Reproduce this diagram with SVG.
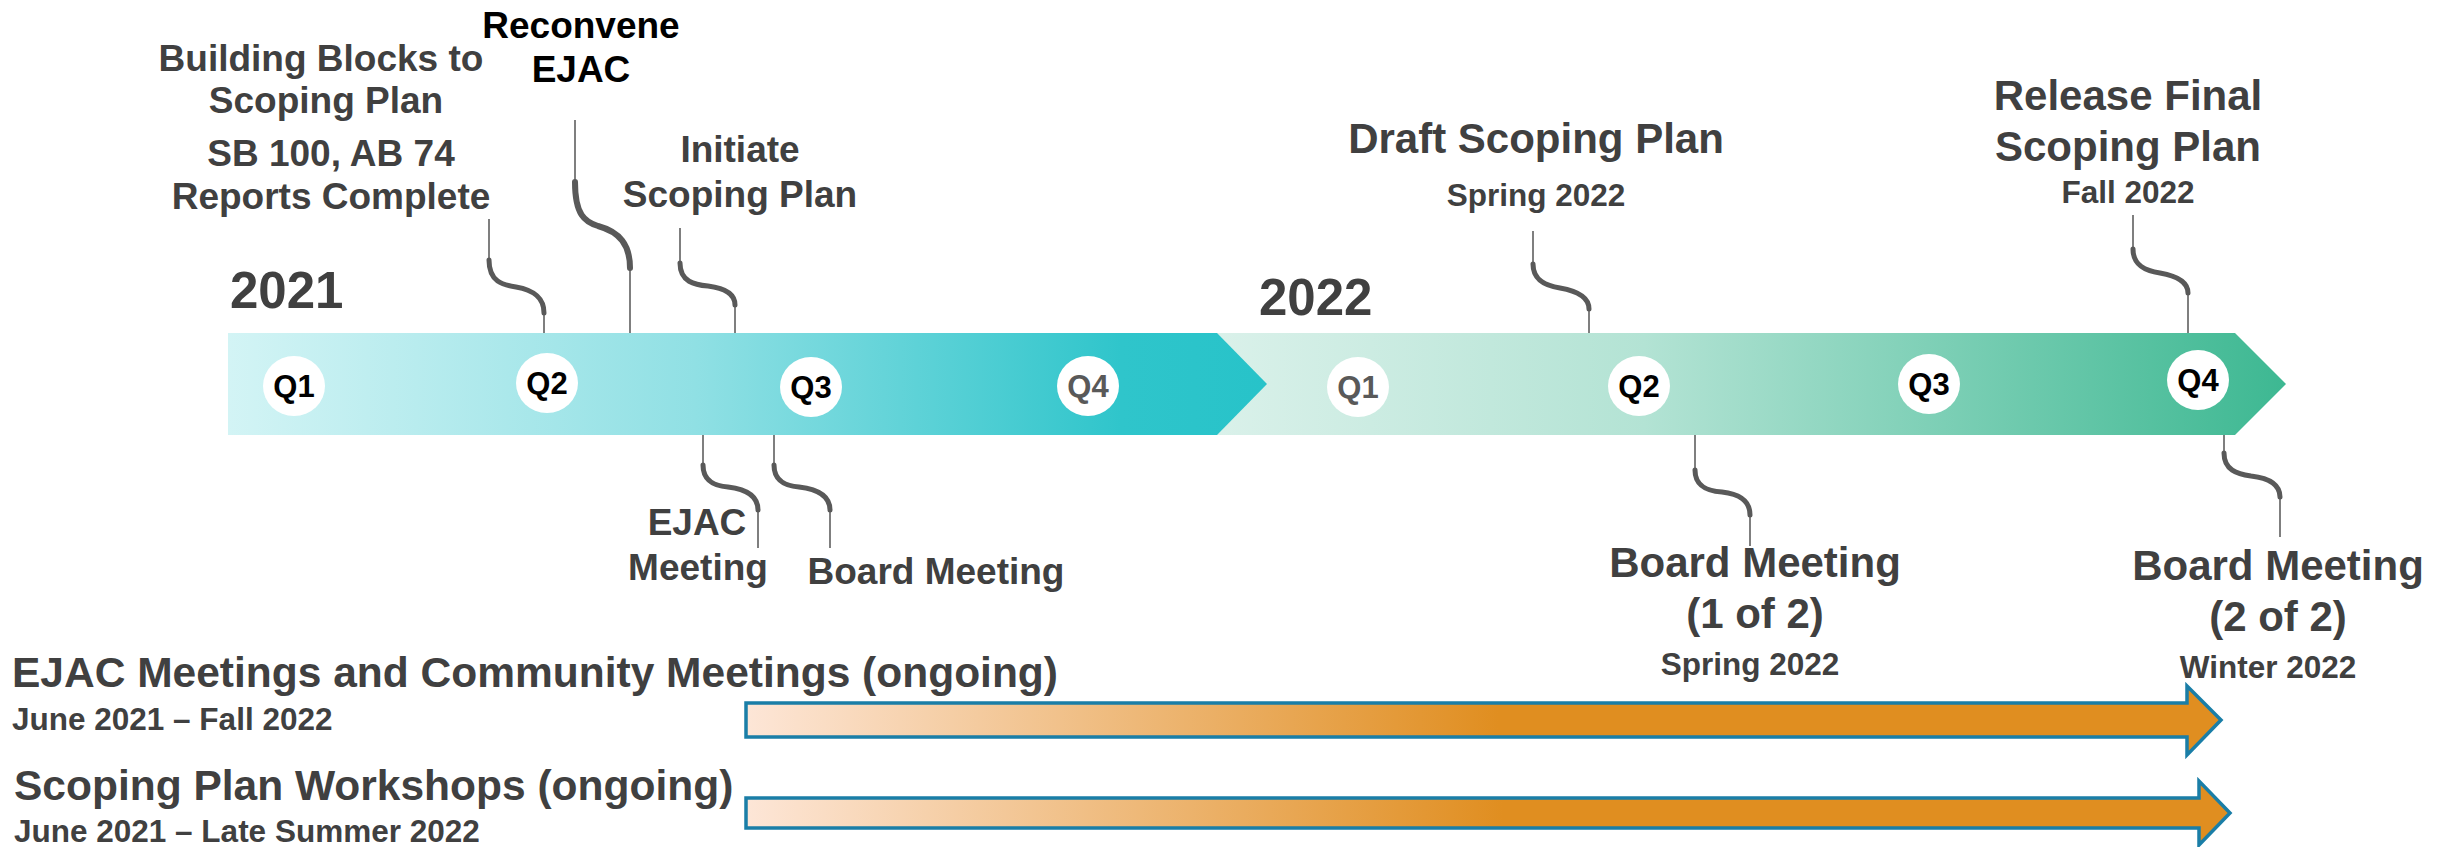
<svg xmlns="http://www.w3.org/2000/svg" width="2452" height="847" viewBox="0 0 2452 847">
<defs>
<linearGradient id="g2021" x1="0" y1="0" x2="1" y2="0">
<stop offset="0" stop-color="#d3f4f5"/>
<stop offset="0.45" stop-color="#90e0e4"/>
<stop offset="0.86" stop-color="#2fc5cb"/>
<stop offset="1" stop-color="#27c3c9"/>
</linearGradient>
<linearGradient id="g2022" x1="0" y1="0" x2="1" y2="0">
<stop offset="0" stop-color="#daf1ea"/>
<stop offset="0.4" stop-color="#b3e3d4"/>
<stop offset="1" stop-color="#3db892"/>
</linearGradient>
<linearGradient id="gOrange" x1="0" y1="0" x2="1" y2="0">
<stop offset="0" stop-color="#fde6d7"/>
<stop offset="0.51" stop-color="#e08e20"/>
<stop offset="1" stop-color="#e08e20"/>
</linearGradient>
<style>
text{font-family:"Liberation Sans",Arial,sans-serif;font-weight:bold;fill:#404040}
.m{text-anchor:middle}
.lbl{font-size:37px}
.big{font-size:42px}
.sm{font-size:31.5px}
.yr{font-size:51px}
.q{font-size:31px;text-anchor:middle;fill:#000}
.qg{fill:#595959}
.blk{fill:#000}
.thin{fill:none;stroke:#7f7f7f;stroke-width:2}
.thick{fill:none;stroke:#595959;stroke-width:5;stroke-linecap:round}
.arrow{fill:url(#gOrange);stroke:#1a7ea7;stroke-width:3.5}
.qc{fill:#fff}
</style>
</defs>

<g id="bar-2022">
<polygon points="1217,333 2235,333 2286,384 2235,435 1217,435" fill="url(#g2022)"/>
</g>
<g id="bar-2021">
<polygon points="228,333 1217,333 1267,384 1217,435 228,435" fill="url(#g2021)"/>
</g>

<g id="year-2021"><text class="yr" x="230" y="308">2021</text></g>
<g id="year-2022"><text class="yr" x="1259" y="315">2022</text></g>

<g id="q1-2021"><ellipse class="qc" cx="294" cy="386" rx="31" ry="30"/><text class="q" x="294" y="397">Q1</text></g>
<g id="q2-2021"><ellipse class="qc" cx="547" cy="383" rx="31" ry="30"/><text class="q" x="547" y="394">Q2</text></g>
<g id="q3-2021"><ellipse class="qc" cx="811" cy="387" rx="31" ry="30"/><text class="q" x="811" y="398">Q3</text></g>
<g id="q4-2021"><ellipse class="qc" cx="1088" cy="386" rx="31" ry="30"/><text class="q qg" x="1088" y="397">Q4</text></g>
<g id="q1-2022"><ellipse class="qc" cx="1358" cy="387" rx="31" ry="30"/><text class="q qg" x="1358" y="398">Q1</text></g>
<g id="q2-2022"><ellipse class="qc" cx="1639" cy="386" rx="31" ry="30"/><text class="q" x="1639" y="397">Q2</text></g>
<g id="q3-2022"><ellipse class="qc" cx="1929" cy="384" rx="31" ry="30"/><text class="q" x="1929" y="395">Q3</text></g>
<g id="q4-2022"><ellipse class="qc" cx="2198" cy="380" rx="31" ry="30"/><text class="q" x="2198" y="391">Q4</text></g>

<g id="connectors">
<path class="thin" d="M489 219V260M544 313V333"/>
<path class="thick" d="M489 260C489 282 503 285 516 287C533 290 544 297 544 313"/>
<path class="thin" d="M575 120V182M630 268V333"/>
<path class="thick" d="M575 182C575 215 585 222 598 226C620 232 630 245 630 268" style="stroke-width:6"/>
<path class="thin" d="M680 228V263M735 305V333"/>
<path class="thick" d="M680 263C680 282 695 285 708 286C724 288 735 293 735 305"/>
<path class="thin" d="M703 435V465M758 510V548"/>
<path class="thick" d="M703 465C703 482 716 486 728 487C745 489 758 495 758 510"/>
<path class="thin" d="M774 435V465M830 510V548"/>
<path class="thick" d="M774 465C774 482 787 486 799 487C816 489 830 495 830 510"/>
<path class="thin" d="M1533 231V264M1589 309V333"/>
<path class="thick" d="M1533 264C1533 281 1547 286 1560 288C1577 291 1589 297 1589 309"/>
<path class="thin" d="M2133 215V249M2188 293V333"/>
<path class="thick" d="M2133 249C2133 266 2146 271 2160 273C2177 276 2188 282 2188 293"/>
<path class="thin" d="M1695 435V470M1750 515V546"/>
<path class="thick" d="M1695 470C1695 487 1708 491 1722 492C1739 494 1750 500 1750 515"/>
<path class="thin" d="M2224 435V453M2280 497V537"/>
<path class="thick" d="M2224 453C2224 470 2237 474 2251 476C2268 478 2280 484 2280 497"/>
</g>

<g id="building-blocks">
<text class="lbl m" x="321" y="71">Building Blocks to</text>
<text class="lbl m" x="326" y="113">Scoping Plan</text>
<text class="lbl m" x="331" y="166">SB 100, AB 74</text>
<text class="lbl m" x="331" y="209">Reports Complete</text>
</g>
<g id="reconvene-ejac">
<text class="lbl m blk" x="581" y="38">Reconvene</text>
<text class="lbl m blk" x="581" y="82">EJAC</text>
</g>
<g id="initiate">
<text class="lbl m" x="740" y="162">Initiate</text>
<text class="lbl m" x="740" y="207">Scoping Plan</text>
</g>
<g id="ejac-meeting">
<text class="lbl m" x="697" y="535">EJAC</text>
<text class="lbl m" x="698" y="580">Meeting</text>
</g>
<g id="board-meeting-2021">
<text class="lbl m" x="936" y="584">Board Meeting</text>
</g>
<g id="draft-scoping-plan">
<text class="big m" x="1536" y="153">Draft Scoping Plan</text>
<text class="sm m" x="1536" y="206">Spring 2022</text>
</g>
<g id="release-final">
<text class="big m" x="2128" y="110">Release Final</text>
<text class="big m" x="2128" y="161">Scoping Plan</text>
<text class="sm m" x="2128" y="203">Fall 2022</text>
</g>
<g id="board-meeting-1">
<text class="big m" x="1755" y="577">Board Meeting</text>
<text class="big m" x="1755" y="628">(1 of 2)</text>
<text class="sm m" x="1750" y="675">Spring 2022</text>
</g>
<g id="board-meeting-2">
<text class="big m" x="2278" y="580">Board Meeting</text>
<text class="big m" x="2278" y="631">(2 of 2)</text>
<text class="sm m" x="2268" y="678">Winter 2022</text>
</g>

<g id="ejac-community">
<text x="12" y="687" style="font-size:42.5px">EJAC Meetings and Community Meetings (ongoing)</text>
<text class="sm" x="12" y="730">June 2021 – Fall 2022</text>
<path class="arrow" d="M746 703H2187V686L2221 720L2187 755V737H746Z"/>
</g>
<g id="workshops">
<text x="14" y="800" style="font-size:42.5px">Scoping Plan Workshops (ongoing)</text>
<text class="sm" x="14" y="842">June 2021 – Late Summer 2022</text>
<path class="arrow" d="M746 798H2199V781L2230 813L2199 845V828H746Z"/>
</g>
</svg>
